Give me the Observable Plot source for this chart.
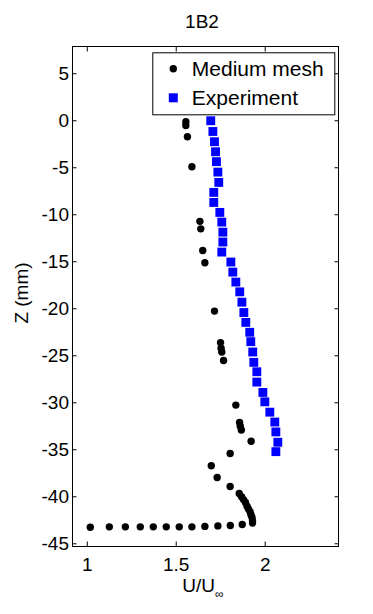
<!DOCTYPE html>
<html><head><meta charset="utf-8">
<script src="https://cdn.jsdelivr.net/npm/d3@7"></script>
<script src="https://cdn.jsdelivr.net/npm/@observablehq/plot@0.6"></script>
<style>body{margin:0;background:#fff} svg{display:block}</style>
</head><body><div id="chart"></div>
<script>
const title = "1B2";
const seriesNames = ["Medium mesh", "Experiment"];
const seriesColors = ["#000000", "#0000ff"];
const xLabel = "U/U";
const xLabelSub = "\u221E";
const yLabel = "Z (mm)";
const xTicks = [1, 1.5, 2];
const yTicks = [5, 0, -5, -10, -15, -20, -25, -30, -35, -40, -45];

const meshU = [1.554, 1.554, 1.563, 1.588, 1.633, 1.638, 1.649, 1.661, 1.715, 1.749, 1.752, 1.756, 1.766,
  1.835, 1.856, 1.860, 1.866, 1.921, 1.803, 1.697, 1.730, 1.803,
  1.854, 1.867, 1.878, 1.889, 1.898, 1.906, 1.915, 1.920, 1.926, 1.929, 1.929,
  1.871, 1.804, 1.734, 1.661, 1.588, 1.517, 1.444, 1.371, 1.298, 1.214, 1.124, 1.017];
const meshZ = [-0.1, -0.5, -1.7, -4.9, -10.7, -11.5, -13.8, -15.1, -20.25, -23.6, -24.2, -24.6, -25.5,
  -30.25, -32.1, -32.5, -32.9, -34.1, -35.4, -36.7, -37.95, -38.9,
  -39.65, -40.0, -40.3, -40.6, -41.0, -41.3, -41.6, -41.9, -42.2, -42.55, -42.8,
  -42.95, -43.05, -43.1, -43.15, -43.2, -43.2, -43.2, -43.2, -43.2, -43.2, -43.2, -43.25];

const expU = [1.694, 1.706, 1.715, 1.721, 1.726, 1.734, 1.739, 1.711, 1.711, 1.745, 1.756, 1.762, 1.762, 1.756,
  1.807, 1.818, 1.835, 1.857, 1.869, 1.880, 1.891, 1.913, 1.919, 1.930, 1.936, 1.953, 1.953,
  1.987, 1.998, 2.026, 2.054, 2.060, 2.071, 2.060];
const expZ = [0, -1.14, -2.23, -3.3, -4.35, -5.46, -6.56, -7.62, -8.69, -9.75, -10.78, -11.85, -12.9, -13.97,
  -15.03, -16.1, -17.16, -18.2, -19.3, -20.4, -21.45, -22.5, -23.5, -24.6, -25.7, -26.7, -27.8,
  -28.9, -29.9, -31.0, -32.05, -33.1, -34.2, -35.2];

const mesh = meshU.map((u, i) => ({u, z: meshZ[i]}));
const exp = expU.map((u, i) => ({u, z: expZ[i]}));

const font = "'Liberation Sans', Arial, Helvetica, sans-serif";
const W = 373, H = 614, mL = 72, mR = 35, mT = 46, mB = 68;
const fmt = d => String(d);

const plot = Plot.plot({
  width: W, height: H, marginLeft: mL, marginRight: mR, marginTop: mT, marginBottom: mB,
  style: {fontFamily: font, fontSize: "19px", color: "black", background: "white", overflow: "visible"},
  x: {domain: [0.917, 2.412]},
  y: {domain: [-45.29, 7.9]},
  marks: [
    Plot.axisX({anchor: "bottom", ticks: xTicks, tickSize: -4.5, tickPadding: 15, tickFormat: fmt, label: null}),
    Plot.axisX({anchor: "top", ticks: xTicks, tickSize: -4.5, tickFormat: () => "", label: null}),
    Plot.axisY({anchor: "left", ticks: yTicks, tickSize: -4.5, tickPadding: 8, tickFormat: fmt, label: null}),
    Plot.axisY({anchor: "right", ticks: yTicks, tickSize: -4.5, tickFormat: () => "", label: null}),
    Plot.dot(mesh, {x: "u", y: "z", r: 3.7, fill: seriesColors[0], stroke: null}),
    Plot.dot(exp, {x: "u", y: "z", r: 5.0, symbol: "square", fill: seriesColors[1], stroke: null}),
    Plot.frame({stroke: "black", strokeWidth: 1})
  ]
});
document.getElementById("chart").appendChild(plot);

const svg = d3.select(plot);
const cx = (mL + (W - mR)) / 2;
// title
svg.append("text").attr("x", cx - 3).attr("y", 28).attr("text-anchor", "middle")
  .attr("font-family", font).attr("font-size", 19).attr("fill", "black").text(title);
// x label
const xl = svg.append("text").attr("x", cx - 2).attr("y", 592).attr("text-anchor", "middle")
  .attr("font-family", font).attr("font-size", 19).attr("fill", "black");
xl.append("tspan").text(xLabel);
xl.append("tspan").attr("font-size", 12).attr("dy", 6).text(xLabelSub);
// y label
svg.append("text").attr("transform", `translate(28,${(mT + H - mB) / 2 - 3}) rotate(-90)`)
  .attr("text-anchor", "middle").attr("font-family", font).attr("font-size", 19).attr("fill", "black").text(yLabel);
// legend
const lg = svg.append("g");
const lx = W - mR - 3.7 - 182, ly = mT + 6.3;
lg.append("rect").attr("x", lx + 0.5).attr("y", ly + 0.5).attr("width", 182).attr("height", 62)
  .attr("fill", "white").attr("stroke", "black");
seriesNames.forEach((name, i) => {
  const yy = ly + 16.5 + i * 29;
  if (i === 0) lg.append("circle").attr("cx", lx + 21).attr("cy", yy).attr("r", 3.7).attr("fill", seriesColors[i]);
  else lg.append("rect").attr("x", lx + 21 - 4.5).attr("y", yy - 4.5).attr("width", 9).attr("height", 9).attr("fill", seriesColors[i]);
  lg.append("text").attr("x", lx + 39.5).attr("y", yy).attr("dy", "0.36em").attr("text-anchor", "start")
    .attr("font-family", font).attr("font-size", 21).attr("fill", "black").text(name);
});
</script>
</body></html>
